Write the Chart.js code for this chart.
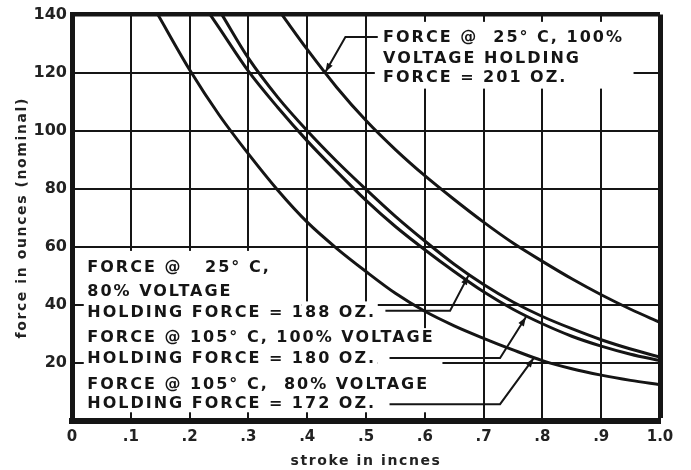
<!DOCTYPE html>
<html>
<head>
<meta charset="utf-8">
<script src="https://cdn.jsdelivr.net/npm/chart.js@4.4.1/dist/chart.umd.min.js"></script>
<style>
  html, body { margin: 0; padding: 0; background: #fff; }
  #wrap { width: 691px; height: 470px; }
</style>
</head>
<body>
<div id="wrap"><canvas id="chart" width="691" height="470"></canvas></div>
<script>
// axis ticks
const strokeTicks = [0, 0.1, 0.2, 0.3, 0.4, 0.5, 0.6, 0.7, 0.8, 0.9, 1.0];
const strokeLabels = ["0", ".1", ".2", ".3", ".4", ".5", ".6", ".7", ".8", ".9", "1.0"];
const forceTicks = [0, 20, 40, 60, 80, 100, 120, 140];

// curves (stroke in inches, force in oz)
const stroke201 = [0.357, 0.4, 0.45, 0.5, 0.55, 0.6, 0.65, 0.7, 0.75, 0.8, 0.85, 0.9, 0.95, 1.0];
const force201 = [140, 128, 115, 103.5, 93.5, 84.5, 76.3, 68.5, 61.3, 55, 49, 43.5, 38.5, 34];

const stroke188 = [0.255, 0.3, 0.35, 0.4, 0.45, 0.5, 0.55, 0.6, 0.65, 0.7, 0.75, 0.8, 0.85, 0.9, 0.95, 1.0];
const force188 = [140, 125, 111.5, 100, 89.5, 79.8, 70.5, 62, 54, 47, 41, 36, 31.8, 28, 24.8, 22];

const stroke180 = [0.235, 0.25, 0.3, 0.35, 0.4, 0.45, 0.5, 0.55, 0.6, 0.65, 0.7, 0.75, 0.8, 0.85, 0.9, 0.95, 1.0];
const force180 = [140, 135.5, 120.5, 108, 96.5, 86, 76, 67, 59, 51.5, 44.5, 38.5, 33.5, 29.2, 25.8, 23, 20.8];

const stroke172 = [0.146, 0.2, 0.25, 0.3, 0.35, 0.4, 0.45, 0.5, 0.55, 0.6, 0.65, 0.7, 0.75, 0.8, 0.85, 0.9, 0.95, 1.0];
const force172 = [140, 121, 105.5, 92, 79.5, 68.5, 59.5, 51.5, 44, 37.8, 32.8, 28.5, 24.5, 20.8, 18, 15.8, 14, 12.5];

const noteTop = ["FORCE @  25° C, 100%", "VOLTAGE HOLDING", "FORCE = 201 OZ."];
const noteBottom = [
  "FORCE @   25° C,",
  "80% VOLTAGE",
  "HOLDING FORCE = 188 OZ.",
  "FORCE @ 105° C, 100% VOLTAGE",
  "HOLDING FORCE = 180 OZ.",
  "FORCE @ 105° C,  80% VOLTAGE",
  "HOLDING FORCE = 172 OZ.",
];

const INK = "#151515";
const toPoints = (xs, ys) => xs.map((x, i) => ({ x: x, y: ys[i] }));

function curve(xs, ys) {
  return {
    data: toPoints(xs, ys),
    borderColor: INK,
    borderWidth: 3,
    pointRadius: 0,
    fill: false,
    cubicInterpolationMode: "monotone",
  };
}

// white patches where the printed grid is cut away behind the notes
const masks = [
  [0.02, 0.39, 3, 58.6],
  [0.39, 0.52, 3, 41.2],
  [0.52, 0.63, 3, 32],
  [0.515, 0.955, 114.5, 137.5],
];

// leader lines, data coords, arrow on last point
const leaders = [
  [[0.52, 132.3], [0.465, 132.3], [0.431, 120.2]],
  [[0.533, 38], [0.643, 38], [0.674, 50]],
  [[0.54, 21.7], [0.728, 21.7], [0.772, 35.8]],
  [[0.54, 5.8], [0.728, 5.8], [0.785, 21.6]],
];

const notesPlugin = {
  id: "notes",
  beforeDatasetsDraw(chart) {
    const { ctx, scales } = chart;
    const xs = scales.x, ys = scales.y;
    ctx.save();
    ctx.fillStyle = "#fff";
    masks.forEach(([x0, x1, y0, y1]) => {
      const l = xs.getPixelForValue(x0), r = xs.getPixelForValue(x1);
      const t = ys.getPixelForValue(y1), b = ys.getPixelForValue(y0);
      ctx.fillRect(l, t, r - l, b - t);
    });
    ctx.restore();
  },
  afterDatasetsDraw(chart) {
    const { ctx, scales } = chart;
    const xs = scales.x, ys = scales.y;
    ctx.save();
    ctx.fillStyle = INK;
    ctx.strokeStyle = INK;
    ctx.font = 'bold 16px "DejaVu Sans"';
    ctx.letterSpacing = "2px";
    ctx.textBaseline = "middle";

    const topRows = [132.1, 124.9, 118.3];
    noteTop.forEach((s, i) => ctx.fillText(s, xs.getPixelForValue(0.529), ys.getPixelForValue(topRows[i])));
    const botRows = [52.6, 44.4, 37.4, 28.6, 21.5, 12.4, 6];
    noteBottom.forEach((s, i) => ctx.fillText(s, xs.getPixelForValue(0.026), ys.getPixelForValue(botRows[i])));

    ctx.lineWidth = 2;
    leaders.forEach((pts) => {
      const p = pts.map(([x, y]) => [xs.getPixelForValue(x), ys.getPixelForValue(y)]);
      ctx.beginPath();
      p.forEach(([x, y], i) => (i ? ctx.lineTo(x, y) : ctx.moveTo(x, y)));
      ctx.stroke();
      const [ax, ay] = p[p.length - 1], [bx, by] = p[p.length - 2];
      const a = Math.atan2(ay - by, ax - bx);
      ctx.beginPath();
      ctx.moveTo(ax, ay);
      ctx.lineTo(ax - 9 * Math.cos(a) + 3.2 * Math.sin(a), ay - 9 * Math.sin(a) - 3.2 * Math.cos(a));
      ctx.lineTo(ax - 9 * Math.cos(a) - 3.2 * Math.sin(a), ay - 9 * Math.sin(a) + 3.2 * Math.cos(a));
      ctx.closePath();
      ctx.fill();
    });
    ctx.restore();
  },
  afterDraw(chart) {
    const { ctx, chartArea } = chart;
    ctx.save();
    ctx.fillStyle = "#222";
    ctx.font = 'bold 14px "DejaVu Sans"';
    ctx.letterSpacing = "1.6px";
    ctx.textAlign = "center";
    ctx.textBaseline = "middle";
    ctx.fillText("stroke in incnes", (chartArea.left + chartArea.right) / 2, 461);
    ctx.translate(22, (chartArea.top + chartArea.bottom) / 2);
    ctx.rotate(-Math.PI / 2);
    ctx.fillText("force in ounces (nominal)", 0, 0);
    ctx.restore();
  },
};

new Chart(document.getElementById("chart"), {
  type: "line",
  data: {
    datasets: [
      curve(stroke201, force201),
      curve(stroke188, force188),
      curve(stroke180, force180),
      curve(stroke172, force172),
    ],
  },
  options: {
    responsive: false,
    animation: false,
    layout: { padding: { left: 0, top: 14, right: 31, bottom: 0 } },
    plugins: { legend: { display: false }, tooltip: { enabled: false } },
    scales: {
      x: {
        type: "linear",
        min: 0,
        max: 1,
        afterBuildTicks: (s) => { s.ticks = strokeTicks.map((v) => ({ value: v })); },
        afterFit: (s) => { s.height = 49; },
        ticks: {
          padding: 7,
          color: "#222",
          font: { family: "DejaVu Sans", size: 15, weight: "bold" },
          callback: (v, i) => strokeLabels[i],
        },
        grid: {
          drawTicks: false,
          color: INK,
          lineWidth: (c) => (c.tick && c.tick.value === 1 ? 5 : 2),
        },
        border: { display: true, color: INK, width: 6 },
      },
      y: {
        min: 0,
        max: 140,
        afterBuildTicks: (s) => { s.ticks = forceTicks.map((v) => ({ value: v })); },
        afterFit: (s) => { s.width = 72; },
        ticks: {
          padding: 5,
          color: "#222",
          font: { family: "DejaVu Sans", size: 16, weight: "bold" },
          callback: (v) => (v === 0 ? "" : String(v)),
        },
        grid: {
          drawTicks: false,
          color: INK,
          lineWidth: (c) => (c.tick && c.tick.value === 140 ? 4.5 : 2),
        },
        border: { display: true, color: INK, width: 5 },
      },
    },
  },
  plugins: [notesPlugin],
});
</script>
</body>
</html>
